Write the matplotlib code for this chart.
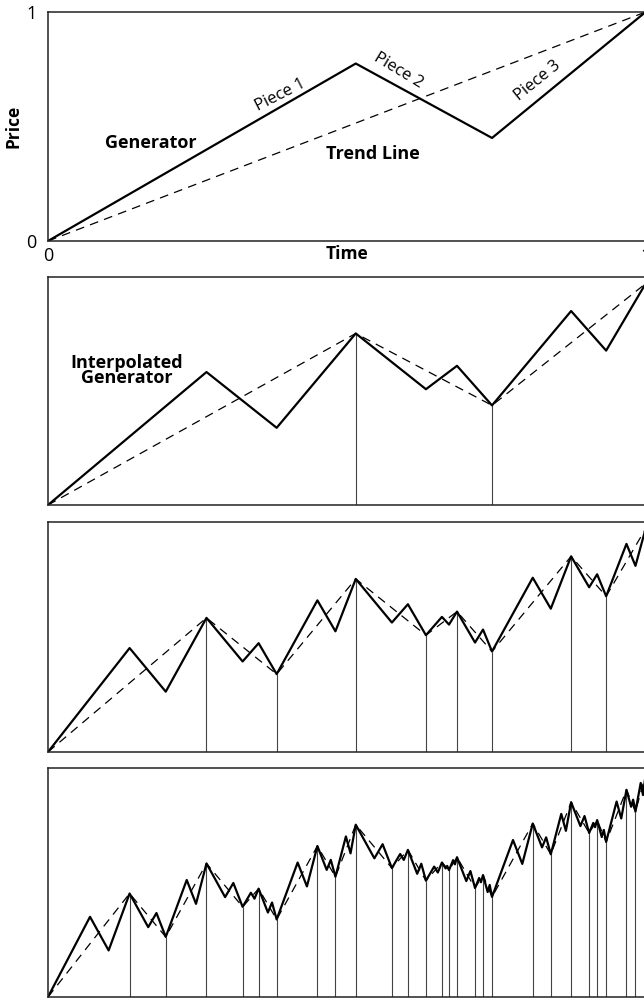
import numpy as np
import matplotlib
matplotlib.use('Agg')
from matplotlib import pyplot as plt

plt.rcParams['font.family'] = ['Open Sans', 'DejaVu Sans']

# generator turning points (time, price)
gen_t = [0.0, 0.515, 0.743, 1.0]
gen_p = [0.0, 0.775, 0.45, 1.0]

trend_t = [0.0, 1.0]
trend_p = [0.0, 1.0]

piece_labels = ['Piece 1', 'Piece 2', 'Piece 3']
tick_vals = [0, 1]
tick_labels = ['0', '1']

LINE_COLOR = 'black'
SPINE_COLOR = '#222222'
VLINE_COLOR = '#444444'


def interpolate(t, p):
    # replace every piece of the curve with a scaled copy of the generator
    new_t, new_p = [t[0]], [p[0]]
    for i in range(len(t) - 1):
        dt = t[i + 1] - t[i]
        dp = p[i + 1] - p[i]
        for gt, gp in zip(gen_t[1:], gen_p[1:]):
            new_t.append(t[i] + gt * dt)
            new_p.append(p[i] + gp * dp)
    return new_t, new_p


def style_axes(ax):
    for side in ['left', 'top', 'bottom']:
        ax.spines[side].set_color(SPINE_COLOR)
        ax.spines[side].set_linewidth(1.1)
    ax.spines['right'].set_visible(False)


fig = plt.figure(figsize=(6.44, 10), dpi=100)

# top panel: generator and trend line
ax = fig.add_axes([0.0745, 0.759, 0.928, 0.229])
ax.plot(trend_t, trend_p, color=LINE_COLOR, lw=0.9, dashes=(7, 5))
ax.plot(gen_t, gen_p, color=LINE_COLOR, lw=1.6)
ax.set_xlim(0, 1)
ax.set_ylim(0, 1)
ax.set_xticks(tick_vals, tick_labels)
ax.set_yticks(tick_vals, tick_labels)
ax.tick_params(length=0, labelsize=13)
ax.tick_params(axis='x', pad=4)
ax.tick_params(axis='y', pad=8)
style_axes(ax)
ax.text(0.5, -0.058, 'Time', transform=ax.transAxes, ha='center', va='center',
        fontsize=12.5, fontweight='bold')
ax.text(-0.057, 0.5, 'Price', transform=ax.transAxes, ha='center', va='center',
        rotation=90, fontsize=12.5, fontweight='bold')
ax.text(0.172, 0.43, 'Generator', transform=ax.transAxes, ha='center', va='center',
        fontsize=13, fontweight='bold')
ax.text(0.543, 0.38, 'Trend Line', transform=ax.transAxes, ha='center', va='center',
        fontsize=13, fontweight='bold')
piece_pos = [(0.389, 0.635, 27), (0.587, 0.745, -31), (0.82, 0.70, 39)]
for label, (x, y, rot) in zip(piece_labels, piece_pos):
    ax.text(x, y, label, transform=ax.transAxes, ha='center', va='center',
            rotation=rot, fontsize=12)

# lower panels: successive interpolations
panel_boxes = [[0.0745, 0.495, 0.928, 0.228],
               [0.0745, 0.248, 0.928, 0.230],
               [0.0745, 0.003, 0.928, 0.229]]

prev_t, prev_p = gen_t, gen_p
for n, box in enumerate(panel_boxes):
    cur_t, cur_p = interpolate(prev_t, prev_p)
    ax = fig.add_axes(box)
    ax.vlines(prev_t[1:-1], 0, prev_p[1:-1], color=VLINE_COLOR, lw=0.8)
    ax.plot(prev_t, prev_p, color=LINE_COLOR, lw=0.9, dashes=(7, 5))
    ax.plot(cur_t, cur_p, color=LINE_COLOR, lw=1.6)
    ax.set_xlim(0, 1)
    ax.set_ylim(0, 1.03)
    ax.set_xticks([])
    ax.set_yticks([])
    style_axes(ax)
    if n == 0:
        ax.text(0.132, 0.59, 'Interpolated\nGenerator', transform=ax.transAxes,
                ha='center', va='center', fontsize=13, fontweight='bold',
                linespacing=0.85)
    prev_t, prev_p = cur_t, cur_p

fig.savefig('out.png', dpi=100)
